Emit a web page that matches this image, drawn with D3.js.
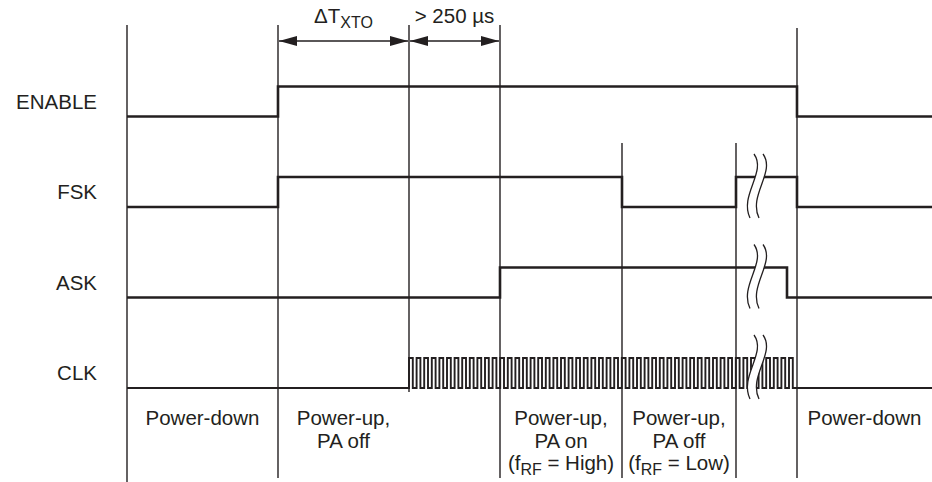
<!DOCTYPE html>
<html>
<head>
<meta charset="utf-8">
<script src="https://cdn.jsdelivr.net/npm/d3@7/dist/d3.min.js"></script>
<style>
  body { margin: 0; background: #fff; }
</style>
</head>
<body>
<div id="chart"></div>
<script>
// signal rows, top to bottom
const signalNames = ['ENABLE', 'FSK', 'ASK', 'CLK'];

// step edges as [time, level]; time in arbitrary units
const enableSteps = [[0, 0], [151, 1], [670, 0]];
const fskSteps = [[0, 0], [151, 1], [495, 0], [609, 1], [670, 0]];
const askSteps = [[0, 0], [373, 1], [660, 0]];
const clkStart = 282, clkEnd = 670, clkPeriod = 7.6;
const tEnd = 805;

// vertical phase boundaries
const markerTimes = [0, 151, 282, 373, 495, 609, 670];
const markerFromFsk = [495, 609];   // these start just above the FSK row
const markerToClk = [282];          // this one stops at the CLK row

// axis break symbol
const breakTime = 625;
const breakRows = ['FSK', 'ASK', 'CLK'];

// top interval annotations
const intervals = [
  { t0: 151, t1: 282, text: 'ΔT_{XTO}' },
  { t0: 282, t1: 373, text: '> 250 µs' }
];

// bottom phase labels
const phases = [
  { t0: 0, t1: 151, lines: ['Power-down'] },
  { t0: 151, t1: 282, lines: ['Power-up,', 'PA off'] },
  { t0: 373, t1: 495, lines: ['Power-up,', 'PA on', '(f_{RF} = High)'] },
  { t0: 495, t1: 609, lines: ['Power-up,', 'PA off', '(f_{RF} = Low)'] },
  { t0: 670, t1: 805, lines: ['Power-down'] }
];

const width = 932, height = 482;
const ink = '#231f20';
const font = 'Liberation Sans, Arial, Helvetica, sans-serif';
const fontSize = 20.5, subSize = 16;

const x = d3.scaleLinear().domain([0, tEnd]).range([127, 932]);
const yLow = d3.scaleLinear().domain([0, signalNames.length - 1]).range([116.5, 388]);
const swing = 30;

const svg = d3.select('#chart').append('svg')
    .attr('width', width)
    .attr('height', height)
    .style('font-family', font)
    .style('fill', ink);

// write "abc_{sub}def" into a text element with tspans
function richText(sel, str) {
  const parts = str.split(/(_\{[^}]*\})/).filter(s => s.length);
  let shifted = false;
  parts.forEach(p => {
    if (p.startsWith('_{')) {
      sel.append('tspan').attr('font-size', subSize).attr('dy', 5).text(p.slice(2, -1));
      shifted = true;
    } else {
      const t = sel.append('tspan').text(p);
      if (shifted) { t.attr('dy', -5); shifted = false; }
    }
  });
}

// vertical boundary lines
svg.append('g')
    .attr('stroke', ink)
    .attr('stroke-width', 1.4)
  .selectAll('line')
  .data(markerTimes)
  .join('line')
    .attr('x1', d => x(d)).attr('x2', d => x(d))
    .attr('y1', d => markerFromFsk.includes(d) ? 143 : (d === 670 ? 28 : 25))
    .attr('y2', d => d === 0 ? height : (markerToClk.includes(d) ? yLow(3) + 4 : 478));

// build step paths
function stepPoints(steps, row) {
  const lo = yLow(row), hi = lo - swing;
  const pts = [];
  steps.forEach(([t, v], i) => {
    const yy = v ? hi : lo;
    if (i > 0) pts.push([x(t), pts[pts.length - 1][1]]);
    pts.push([x(t), yy]);
  });
  pts.push([x(tEnd), pts[pts.length - 1][1]]);
  return pts;
}

function clockSteps() {
  const steps = [[0, 0]];
  let level = 1;
  for (let t = clkStart; t < clkEnd - 0.5; t += clkPeriod / 2) {
    steps.push([t, level]);
    level = 1 - level;
  }
  steps.push([clkEnd, 0]);
  return steps;
}

const rowSteps = [enableSteps, fskSteps, askSteps, clockSteps()];
const line = d3.line();

svg.append('g')
    .attr('fill', 'none')
    .attr('stroke', ink)
    .attr('stroke-linejoin', 'miter')
  .selectAll('path')
  .data(rowSteps)
  .join('path')
    .attr('stroke-width', (d, i) => i === 3 ? 1.9 : 2.6)
    .attr('d', (d, i) => line(stepPoints(d, i)));

// signal names
svg.append('g')
    .attr('font-size', fontSize)
    .attr('text-anchor', 'end')
  .selectAll('text')
  .data(signalNames)
  .join('text')
    .attr('x', 97)
    .attr('y', (d, i) => yLow(i) - swing / 2)
    .attr('dy', '0.36em')
    .text(d => d);

// break symbols
const bx = x(breakTime);
function curve(dx, lo) {
  return `M${bx + 2 + dx},${lo - 53} C${bx + 15 + dx},${lo - 35} ${bx - 13 + dx},${lo - 12} ${bx - 2 + dx},${lo + 11}`;
}
const gBreak = svg.append('g').selectAll('g')
  .data(breakRows)
  .join('g');
gBreak.append('path')
    .attr('fill', '#fff')
    .attr('stroke', 'none')
    .attr('d', d => {
      const lo = yLow(signalNames.indexOf(d));
      return `${curve(0, lo)} L${bx - 2 + 9},${lo + 11} C${bx - 13 + 9},${lo - 12} ${bx + 15 + 9},${lo - 35} ${bx + 2 + 9},${lo - 53} Z`;
    });
gBreak.selectAll('path.c')
  .data(d => [0, 9].map(dx => ({ dx, lo: yLow(signalNames.indexOf(d)) })))
  .join('path')
    .attr('class', 'c')
    .attr('fill', 'none')
    .attr('stroke', ink)
    .attr('stroke-width', 1.3)
    .attr('d', d => curve(d.dx, d.lo));

// top interval arrows
svg.append('defs').append('marker')
    .attr('id', 'head')
    .attr('viewBox', '0 0 18 10')
    .attr('refX', 18).attr('refY', 5)
    .attr('markerWidth', 18).attr('markerHeight', 10)
    .attr('markerUnits', 'userSpaceOnUse')
    .attr('orient', 'auto-start-reverse')
  .append('path')
    .attr('d', 'M0,0 L18,5 L0,10 Z')
    .attr('fill', ink);

const arrowY = 41;
const gInt = svg.append('g').selectAll('g')
  .data(intervals)
  .join('g');
gInt.append('line')
    .attr('x1', d => x(d.t0) + 1).attr('x2', d => x(d.t1) - 1)
    .attr('y1', arrowY).attr('y2', arrowY)
    .attr('stroke', ink)
    .attr('stroke-width', 1.5)
    .attr('marker-start', 'url(#head)')
    .attr('marker-end', 'url(#head)');
gInt.append('text')
    .attr('x', d => (x(d.t0) + x(d.t1)) / 2)
    .attr('y', 23)
    .attr('font-size', fontSize)
    .attr('text-anchor', 'middle')
    .each(function (d) { richText(d3.select(this), d.text); });

// bottom phase labels
svg.append('g')
    .attr('font-size', fontSize)
    .attr('text-anchor', 'middle')
  .selectAll('text')
  .data(phases.flatMap(p => p.lines.map((l, i) => ({ cx: (x(p.t0) + x(p.t1)) / 2, l, i }))))
  .join('text')
    .attr('x', d => d.cx)
    .attr('y', d => 418 + d.i * 22.5)
    .attr('dy', '0.36em')
    .each(function (d) { richText(d3.select(this), d.l); });
</script>
</body>
</html>
